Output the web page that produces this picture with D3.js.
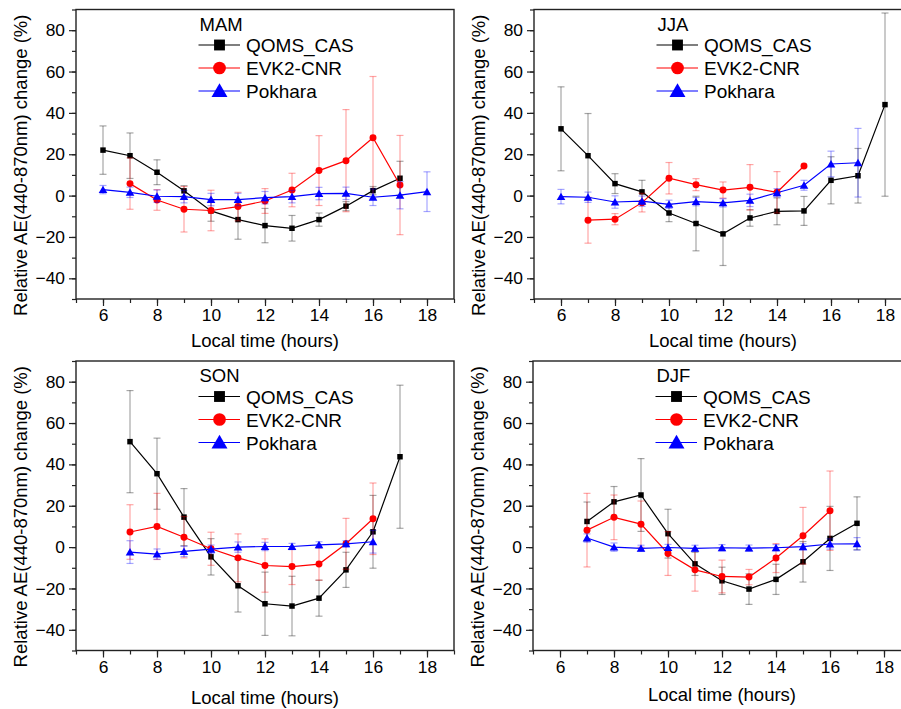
<!DOCTYPE html>
<html>
<head>
<meta charset="utf-8">
<script src="https://cdn.jsdelivr.net/npm/d3@7"></script>
<style>
  body { margin: 0; background: #fff; overflow: hidden; }
  svg { font-family: "Liberation Sans", Arial, sans-serif; }
  .tick text { font-size: 17.4px; fill: #000; }
</style>
</head>
<body>
<svg width="901" height="709"></svg>
<script>
// station names and season labels
const stations = ["QOMS_CAS", "EVK2-CNR", "Pokhara"];
const seasons = ["MAM", "JJA", "SON", "DJF"];
const yTickValues = [-40, -20, 0, 20, 40, 60, 80];
const xTickValues = [6, 8, 10, 12, 14, 16, 18];

// MAM
const mamQomsHour = [6, 7, 8, 9, 10, 11, 12, 13, 14, 15, 16, 17];
const mamQomsVal  = [22, 19.3, 11.3, 2.3, -7.4, -11.6, -14.5, -15.8, -11.6, -5.1, 2.4, 8.4];
const mamQomsErr  = [11.7, 11, 6, 2.5, 5, 9.5, 8.3, 6.2, 3.2, 2.2, 2, 8.2];
const mamEvkHour = [7, 8, 9, 10, 11, 12, 13, 14, 15, 16, 17];
const mamEvkVal  = [5.8, -2.1, -6.6, -7.2, -5.3, -2.6, 2.7, 12.1, 16.9, 28, 5.1];
const mamEvkErr  = [12.4, 5, 11, 9.8, 6.9, 6, 8.1, 16.9, 24.7, 29.6, 24];
const mamPokHour = [6, 7, 8, 9, 10, 11, 12, 13, 14, 15, 16, 17, 18];
const mamPokVal  = [2.9, 1.6, -0.3, -0.5, -1.9, -1.9, -1, -0.5, 1, 1.1, -0.8, 0.2, 1.9];
const mamPokErr  = [2, 2.5, 3, 3, 3, 3, 3, 3, 3, 3, 4, 6.6, 9.6];

// JJA
const jjaQomsHour = [6, 7, 8, 9, 10, 11, 12, 13, 14, 15, 16, 17, 18];
const jjaQomsVal  = [32.3, 19.3, 5.8, 1.8, -8.4, -13.5, -18.5, -10.8, -7.6, -7.4, 7.4, 9.6, 44];
const jjaQomsErr  = [20.3, 20.4, 4.8, 5.6, 4.2, 13.2, 15.3, 4, 6.5, 7, 11.4, 13.2, 44.3];
const jjaEvkHour = [7, 8, 9, 10, 11, 12, 13, 14, 15];
const jjaEvkVal  = [-11.9, -11.4, -3.4, 8.4, 5.3, 2.7, 4, 1.6, 14.3];
const jjaEvkErr  = [11.1, 2.7, 4.5, 7.6, 2.9, 3.9, 11, 10, 0];
const jjaPokHour = [6, 7, 8, 9, 10, 11, 12, 13, 14, 15, 16, 17];
const jjaPokVal  = [-0.5, -0.8, -3.1, -2.7, -4.2, -2.9, -3.5, -2.3, 1.4, 5, 15.3, 15.9];
const jjaPokErr  = [3.5, 2.5, 3, 2.5, 2, 2, 2, 3, 2, 2.4, 6.2, 16.6];

// SON
const sonQomsHour = [7, 8, 9, 10, 11, 12, 13, 14, 15, 16, 17];
const sonQomsVal  = [51, 35.5, 14.5, -4.7, -18.7, -27.4, -28.5, -24.7, -11, 7.4, 43.7];
const sonQomsErr  = [24.7, 17.2, 13.8, 8.8, 12.7, 15.3, 14.4, 8.7, 8.5, 17.6, 34.6];
const sonEvkHour = [7, 8, 9, 10, 11, 12, 13, 14, 15, 16];
const sonEvkVal  = [7.3, 10, 4.8, -0.8, -5.2, -8.9, -9.4, -8.2, 1.6, 13.7];
const sonEvkErr  = [13.2, 16, 10, 8, 11.6, 12.9, 8.7, 7.8, 12.3, 17.3];
const sonPokHour = [7, 8, 9, 10, 11, 12, 13, 14, 15, 16];
const sonPokVal  = [-2.4, -3.4, -2.1, -1, 0, 0.3, 0.3, 1.1, 1.6, 2.6];
const sonPokErr  = [5.5, 2.5, 2.5, 2, 2.5, 2, 1.5, 1.5, 1.5, 5.5];

// DJF
const djfQomsHour = [7, 8, 9, 10, 11, 12, 13, 14, 15, 16, 17];
const djfQomsVal  = [12.4, 21.9, 25.2, 6.5, -8.1, -16.3, -20.3, -15.6, -7.1, 4.2, 11.5];
const djfQomsErr  = [9.4, 7.4, 17.6, 11.8, 5.6, 6.6, 7.4, 7.3, 9.8, 15.5, 12.8];
const djfEvkHour = [7, 8, 9, 10, 11, 12, 13, 14, 15, 16];
const djfEvkVal  = [8.2, 14.4, 11.1, -3.1, -11, -14.2, -14.5, -5.3, 5.5, 17.6];
const djfEvkErr  = [17.8, 10.8, 11.2, 10.6, 10.3, 7.9, 3.7, 7, 13.7, 19.2];
const djfPokHour = [7, 8, 9, 10, 11, 12, 13, 14, 15, 16, 17];
const djfPokVal  = [4.4, 0, -0.6, -0.2, -0.6, -0.3, -0.5, -0.3, 0.2, 1.5, 1.6];
const djfPokErr  = [2, 2, 1.5, 1.5, 1.5, 1.5, 1.5, 1.5, 1.5, 2.5, 3];

const seasonData = [
  [[mamQomsHour, mamQomsVal, mamQomsErr], [mamEvkHour, mamEvkVal, mamEvkErr], [mamPokHour, mamPokVal, mamPokErr]],
  [[jjaQomsHour, jjaQomsVal, jjaQomsErr], [jjaEvkHour, jjaEvkVal, jjaEvkErr], [jjaPokHour, jjaPokVal, jjaPokErr]],
  [[sonQomsHour, sonQomsVal, sonQomsErr], [sonEvkHour, sonEvkVal, sonEvkErr], [sonPokHour, sonPokVal, sonPokErr]],
  [[djfQomsHour, djfQomsVal, djfQomsErr], [djfEvkHour, djfEvkVal, djfEvkErr], [djfPokHour, djfPokVal, djfPokErr]]
];

const colors = ["#000000", "#ff0000", "#0000ff"];
const shapes = [d3.symbolSquare, d3.symbolCircle, d3.symbolTriangle];
const markerSize = [30, 38, 32];
const legendSize = [118, 127, 110];

const svg = d3.select("svg");

// panel positions: left, top of the plot area, x title offset
const panels = [
  { x0: 76, y0: 9.5, tt: 47.5 },
  { x0: 534, y0: 9.5, tt: 47.5 },
  { x0: 76, y0: 361, tt: 53 },
  { x0: 533, y0: 361, tt: 50.5 }
];
const pw = 378, ph = 289.5;

panels.forEach((p, i) => {
  const g = svg.append("g").attr("transform", `translate(${p.x0},${p.y0})`);
  const x = d3.scaleLinear().domain([5, 19]).range([0, pw]);
  const y = d3.scaleLinear().domain([-50, 90]).range([ph, 0]);

  // minor ticks
  g.append("g").attr("transform", `translate(0,${ph})`)
    .call(d3.axisBottom(x).tickValues(d3.range(5, 20, 1)).tickSize(4).tickFormat(""))
    .call(a => a.select(".domain").remove())
    .call(a => a.selectAll("line").attr("stroke", "#222").attr("stroke-width", 1.2));
  g.append("g")
    .call(d3.axisLeft(y).tickValues(d3.range(-50, 91, 10)).tickSize(4).tickFormat(""))
    .call(a => a.select(".domain").remove())
    .call(a => a.selectAll("line").attr("stroke", "#222").attr("stroke-width", 1.2));

  // major ticks + labels
  g.append("g").attr("transform", `translate(0,${ph})`)
    .call(d3.axisBottom(x).tickValues(xTickValues).tickSize(7).tickPadding(3))
    .call(a => a.select(".domain").remove())
    .call(a => a.selectAll("line").attr("stroke", "#222").attr("stroke-width", 1.2));
  g.append("g")
    .call(d3.axisLeft(y).tickValues(yTickValues).tickSize(7).tickPadding(4))
    .call(a => a.select(".domain").remove())
    .call(a => a.selectAll("line").attr("stroke", "#222").attr("stroke-width", 1.2));

  // frame
  g.append("rect").attr("width", pw).attr("height", ph)
    .attr("fill", "none").attr("stroke", "#222").attr("stroke-width", 1.4);

  // series
  seasonData[i].forEach((s, k) => {
    const pts = s[0].map((h, j) => ({ h: h, v: s[1][j], e: s[2][j] }));
    const eb = g.append("g").attr("stroke", colors[k]).attr("stroke-opacity", 0.35).attr("stroke-width", 1.2);
    pts.filter(d => d.e > 0).forEach(d => {
      const cx = x(d.h);
      eb.append("line").attr("x1", cx).attr("x2", cx).attr("y1", y(d.v + d.e)).attr("y2", y(d.v - d.e));
      eb.append("line").attr("x1", cx - 3.5).attr("x2", cx + 3.5).attr("y1", y(d.v + d.e)).attr("y2", y(d.v + d.e));
      eb.append("line").attr("x1", cx - 3.5).attr("x2", cx + 3.5).attr("y1", y(d.v - d.e)).attr("y2", y(d.v - d.e));
    });
    g.append("path").datum(pts)
      .attr("fill", "none").attr("stroke", colors[k]).attr("stroke-width", 1.2)
      .attr("d", d3.line().x(d => x(d.h)).y(d => y(d.v)));
    g.selectAll(null).data(pts).enter().append("path")
      .attr("transform", d => `translate(${x(d.h)},${y(d.v) + (k === 2 ? 1 : 0)})`)
      .attr("d", d3.symbol().type(shapes[k]).size(markerSize[k]))
      .attr("fill", colors[k]);
  });

  // legend
  const lg = g.append("g").attr("transform", "translate(123,0)");
  lg.append("text").attr("x", 0.5).attr("y", 21.2).attr("font-size", 18.5).text(seasons[i]);
  stations.forEach((name, k) => {
    const ly = 35.5 + k * 23;
    lg.append("line").attr("x1", -0.5).attr("x2", 41).attr("y1", ly).attr("y2", ly)
      .attr("stroke", colors[k]).attr("stroke-width", 1.2);
    lg.append("path").attr("transform", `translate(20.5,${ly + (k === 2 ? 1.5 : 0)})`)
      .attr("d", d3.symbol().type(shapes[k]).size(legendSize[k]))
      .attr("fill", colors[k]);
    lg.append("text").attr("x", 47).attr("y", ly + 7.3).attr("font-size", 19).text(name);
  });

  // axis titles
  g.append("text").attr("x", pw / 2).attr("y", ph + p.tt).attr("text-anchor", "middle")
    .attr("font-size", 18.5).text("Local time (hours)");
  g.append("text").attr("transform", `translate(${-49},${ph / 2 + 11}) rotate(-90)`)
    .attr("text-anchor", "middle").attr("font-size", 18.5)
    .text("Relative AE(440-870nm) change (%)");
});
</script>
</body>
</html>
